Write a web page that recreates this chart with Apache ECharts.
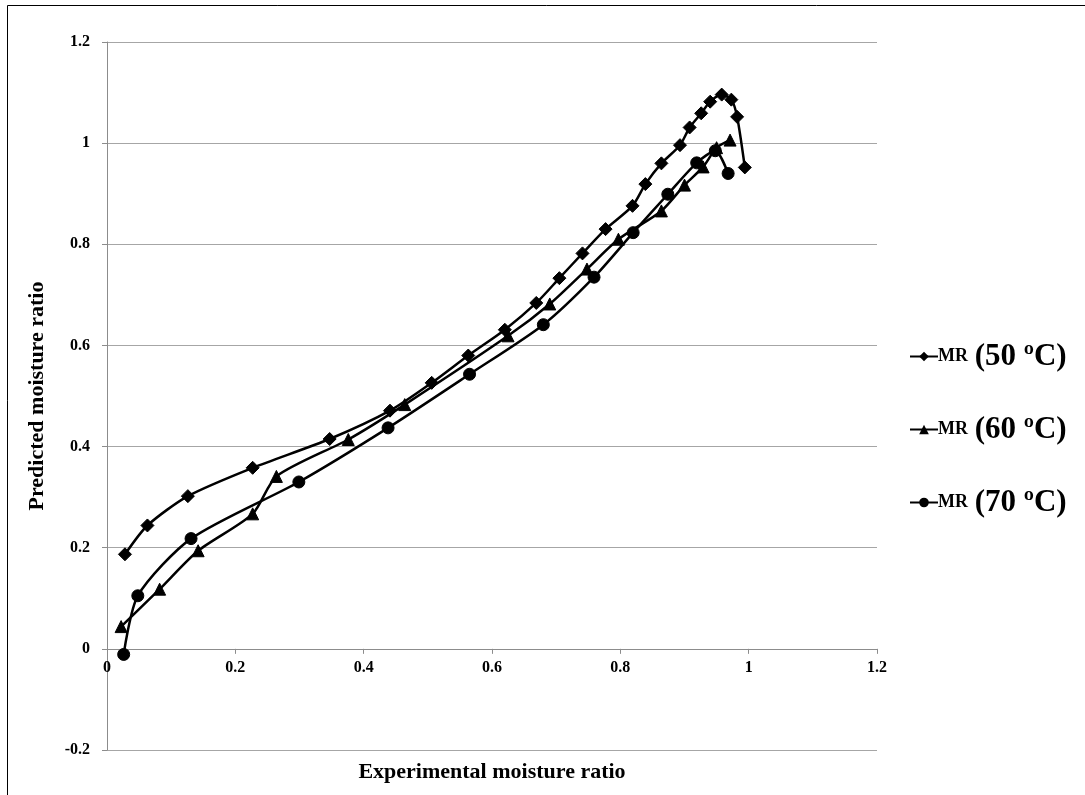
<!DOCTYPE html>
<html>
<head>
<meta charset="utf-8">
<script src="https://cdn.jsdelivr.net/npm/echarts@6/dist/echarts.min.js"></script>
<style>
  html, body { margin: 0; padding: 0; background: #fff; }
  #main { width: 1085px; height: 795px; }
</style>
</head>
<body>
<div id="main"></div>
<script>
// values
var seriesNames = ["MR (50 ºC)", "MR (60 ºC)", "MR (70 ºC)"];

var mr50X = [0.028, 0.063, 0.126, 0.227, 0.347, 0.441, 0.506, 0.563, 0.620, 0.669, 0.705, 0.741, 0.777, 0.819, 0.839, 0.864, 0.893, 0.908, 0.926, 0.940, 0.958, 0.973, 0.982, 0.994];
var mr50Y = [0.187, 0.244, 0.302, 0.358, 0.415, 0.471, 0.526, 0.580, 0.631, 0.684, 0.733, 0.782, 0.830, 0.876, 0.919, 0.960, 0.996, 1.031, 1.059, 1.082, 1.096, 1.086, 1.052, 0.952];

var mr60X = [0.022, 0.082, 0.142, 0.227, 0.264, 0.376, 0.464, 0.625, 0.690, 0.748, 0.797, 0.864, 0.900, 0.929, 0.950, 0.971];
var mr60Y = [0.044, 0.118, 0.194, 0.267, 0.341, 0.414, 0.483, 0.619, 0.682, 0.751, 0.810, 0.866, 0.917, 0.953, 0.991, 1.006];

var mr70X = [0.026, 0.048, 0.131, 0.299, 0.438, 0.565, 0.680, 0.759, 0.820, 0.874, 0.919, 0.948, 0.968];
var mr70Y = [-0.011, 0.105, 0.218, 0.330, 0.437, 0.543, 0.641, 0.735, 0.823, 0.899, 0.961, 0.985, 0.940];

var xTicks = { min: 0, max: 1.2, step: 0.2 };
var yTicks = { min: -0.2, max: 1.2, step: 0.2 };

function pairs(xs, ys) {
  return xs.map(function (x, i) { return [x, ys[i]]; });
}

var font = "Liberation Serif";
var gray = "#8c8c8c";

var myChart = echarts.init(document.getElementById("main"));

var symbols = ["diamond", "triangle", "circle"];
var symbolSizes = [13, 12, 12];
var datas = [pairs(mr50X, mr50Y), pairs(mr60X, mr60Y), pairs(mr70X, mr70Y)];

var option = {
  animation: false,
  backgroundColor: "#fff",
  graphic: [
    {
      type: "rect",
      shape: { x: 7.5, y: 5.5, width: 1100, height: 800 },
      style: { fill: "none", stroke: "#000", lineWidth: 1 }
    },
    {
      // x axis title sits below the -0.2 gridline, centred on the plot
      type: "text",
      x: 492,
      y: 772,
      style: {
        text: "Experimental moisture ratio",
        fill: "#000",
        font: "bold 22px 'Liberation Serif'",
        textAlign: "center",
        textVerticalAlign: "middle"
      }
    }
  ],
  grid: { left: 107, right: 208, top: 42, bottom: 45 },
  legend: {
    orient: "vertical",
    left: 904,
    top: 336,
    itemGap: 42,
    itemWidth: 28,
    itemHeight: 12,
    data: seriesNames,
    formatter: function (name) {
      var m = name.match(/^(MR) (.*)$/);
      return "{a|" + m[1] + "}  {b|" + m[2] + "}";
    },
    textStyle: {
      color: "#000",
      padding: [0, 0, 0, -5],
      rich: {
        a: { fontFamily: font, fontWeight: "bold", fontSize: 18, color: "#000" },
        b: { fontFamily: font, fontWeight: "bold", fontSize: 31, color: "#000" }
      }
    }
  },
  xAxis: {
    type: "value",
    min: xTicks.min,
    max: xTicks.max,
    interval: xTicks.step,
    axisLine: { onZero: false, lineStyle: { color: gray, width: 1 } },
    axisTick: { show: true, length: 5, lineStyle: { color: gray } },
    axisLabel: { fontFamily: font, fontWeight: "bold", fontSize: 16, color: "#000", margin: 11 },
    splitLine: { show: false }
  },
  yAxis: {
    type: "value",
    min: yTicks.min,
    max: yTicks.max,
    interval: yTicks.step,
    name: "Predicted moisture ratio",
    nameLocation: "middle",
    nameGap: 59,
    nameTextStyle: { fontFamily: font, fontWeight: "bold", fontSize: 22, color: "#000" },
    axisLine: { show: true, onZero: false, lineStyle: { color: gray, width: 1 } },
    axisTick: { show: true, length: 5, lineStyle: { color: gray } },
    axisLabel: { fontFamily: font, fontWeight: "bold", fontSize: 16, color: "#000", margin: 17 },
    splitLine: { show: true, lineStyle: { color: "#a6a6a6", width: 1 } }
  },
  series: seriesNames.map(function (name, i) {
    return {
      name: name,
      type: "line",
      data: datas[i],
      smooth: 0.25,
      symbol: symbols[i],
      symbolSize: symbolSizes[i],
      showAllSymbol: true,
      lineStyle: { color: "#000", width: 2.5 },
      itemStyle: { color: "#000", borderColor: "#000" },
      z: 3 - i
    };
  })
};

myChart.setOption(option);

// move the x axis up so it crosses the y axis at 0 (like Excel)
var zeroY = myChart.convertToPixel({ yAxisIndex: 0 }, 0);
var bottomY = myChart.convertToPixel({ yAxisIndex: 0 }, yTicks.min);
myChart.setOption({ xAxis: { offset: zeroY - bottomY } });
</script>
</body>
</html>
